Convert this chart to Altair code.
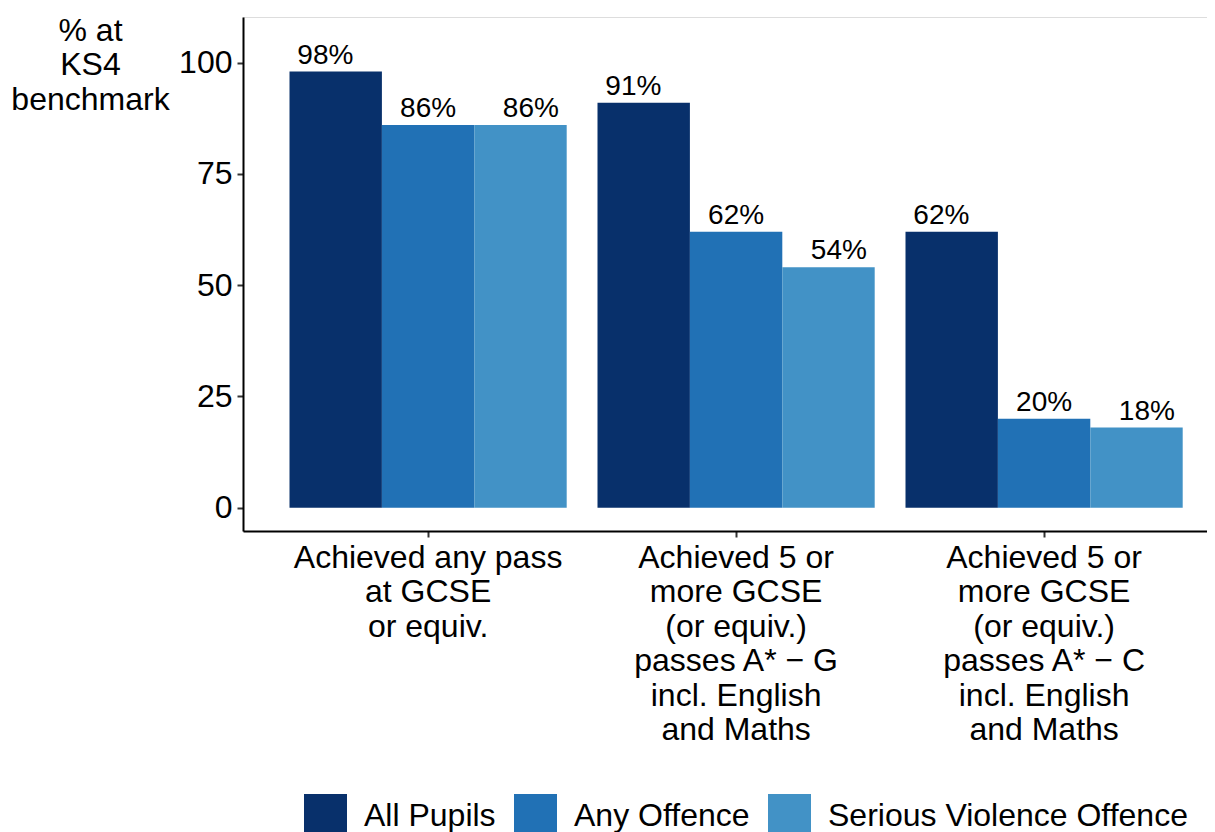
import altair as alt
import pandas as pd

categories = [
    "Achieved any pass\nat GCSE\nor equiv.",
    "Achieved 5 or\nmore GCSE\n(or equiv.)\npasses A* \u2212 G\nincl. English\nand Maths",
    "Achieved 5 or\nmore GCSE\n(or equiv.)\npasses A* \u2212 C\nincl. English\nand Maths",
]
groups = ["All Pupils", "Any Offence", "Serious Violence Offence"]
all_pupils = [98, 91, 62]
any_offence = [86, 62, 20]
serious_violence = [86, 54, 18]
colors = ["#08306B", "#2171B5", "#4292C6"]

rows = []
for g, vals in zip(groups, [all_pupils, any_offence, serious_violence]):
    for c, v in zip(categories, vals):
        rows.append({"category": c, "group": g, "value": v})
df = pd.DataFrame(rows)

FONT = "Liberation Sans"

x_enc = alt.X(
    "category:N",
    sort=categories,
    title=None,
    scale=alt.Scale(paddingInner=0.1, paddingOuter=0.11494, align=0.6568),
    axis=alt.Axis(
        labelAngle=0,
        labelExpr="split(datum.label, '\\n')",
        labelFontSize=32,
        labelLineHeight=34.5,
        labelFont=FONT,
        labelColor="black",
        labelPadding=5,
        labelBaseline="top",
        labelLimit=0,
        tickSize=6,
        tickWidth=2,
        tickColor="#333333",
        domainColor="black",
        domainWidth=2,
        grid=False,
    ),
)

y_enc = alt.Y(
    "value:Q",
    scale=alt.Scale(domain=[-5.25, 110.25], nice=False, zero=False),
    axis=alt.Axis(
        values=[0, 25, 50, 75, 100],
        title=["% at", "KS4", "benchmark"],
        titleAngle=0,
        titleAlign="center",
        titleBaseline="alphabetic",
        titleX=-153,
        titleY=23,
        titleFontSize=32,
        titleFontWeight="normal",
        titleFont=FONT,
        titleColor="black",
        titleLineHeight=34.5,
        labelFontSize=32,
        labelFont=FONT,
        labelColor="black",
        labelPadding=5,
        tickSize=6,
        tickWidth=2,
        tickColor="#333333",
        domainColor="black",
        domainWidth=2,
        grid=False,
    ),
)

bars = alt.Chart(df).mark_bar().encode(
    x=x_enc,
    xOffset=alt.XOffset("group:N", sort=groups, scale=alt.Scale(paddingInner=0, paddingOuter=0)),
    y=y_enc,
    color=alt.Color(
        "group:N",
        sort=groups,
        scale=alt.Scale(domain=groups, range=colors),
        legend=alt.Legend(
            title=None,
            orient="none",
            direction="horizontal",
            legendX=61,
            legendY=777,
            symbolType="square",
            symbolSize=1849,
            symbolStrokeWidth=0,
            symbolOpacity=1,
            labelFontSize=32,
            labelFont=FONT,
            labelColor="black",
            labelOffset=17,
            labelLimit=0,
            columnPadding=18,
            padding=0,
        ),
    ),
)

text = alt.Chart(df).transform_calculate(
    lab="datum.value + '%'"
).mark_text(
    font=FONT, fontSize=28, baseline="alphabetic", align="center", dy=-8, color="black"
).encode(
    x=alt.X("category:N", sort=categories),
    xOffset=alt.XOffset("group:N", sort=groups, scale=alt.Scale(type="point", padding=0.349)),
    y=alt.Y("value:Q"),
    text="lab:N",
)

chart = (
    alt.layer(bars, text)
    .resolve_scale(xOffset="independent")
    .properties(
        width=964,
        height=514,
        padding={"left": 235, "top": 9, "right": 0, "bottom": 301},
        autosize=alt.AutoSizeParams(type="none"),
    )
    .configure_view(stroke=None)
    .configure(background="white")
)

chart.save("out.html", embed_options={"renderer": "svg", "actions": False})
